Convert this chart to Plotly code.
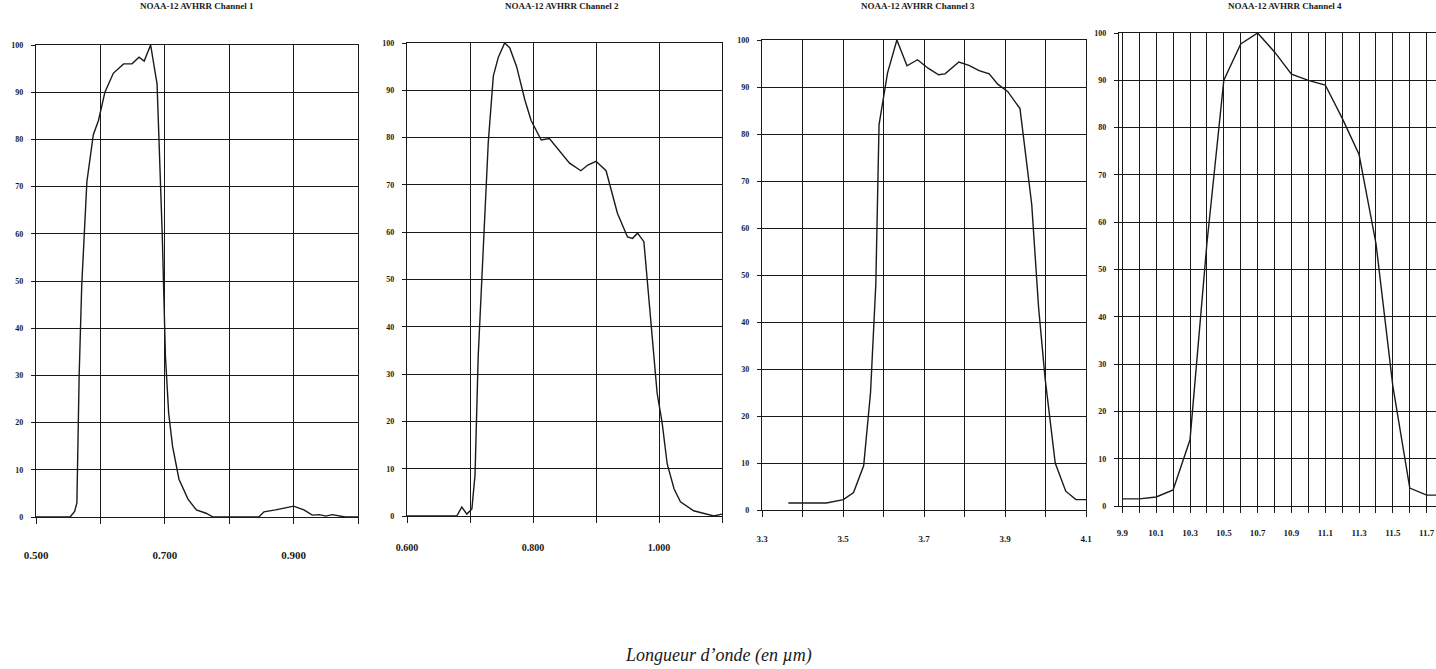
import plotly.graph_objects as go

# ---------------- data ----------------
titles = ["NOAA-12 AVHRR Channel 1", "NOAA-12 AVHRR Channel 2",
          "NOAA-12 AVHRR Channel 3", "NOAA-12 AVHRR Channel 4"]

ch1_wl = [0.500, 0.553, 0.560, 0.5635, 0.567, 0.571, 0.579, 0.589, 0.597, 0.607, 0.620,
          0.636, 0.649, 0.660, 0.668, 0.678, 0.688, 0.696, 0.701, 0.706, 0.712, 0.722,
          0.736, 0.749, 0.764, 0.775, 0.846, 0.854, 0.872, 0.900, 0.916, 0.929, 0.940,
          0.950, 0.960, 0.980, 1.000]
ch1_resp = [0, 0, 1.2, 3, 30, 49, 71, 81, 84, 90, 94,
            96, 96, 97.4, 96.6, 100, 91.7, 60, 34, 22, 15, 8,
            3.8, 1.5, 0.8, 0, 0, 1.1, 1.5, 2.3, 1.5, 0.4, 0.5,
            0.2, 0.5, 0, 0]

ch2_wl = [0.600, 0.679, 0.687, 0.695, 0.703, 0.708, 0.713, 0.721, 0.729, 0.737, 0.745,
          0.755, 0.763, 0.774, 0.787, 0.797, 0.813, 0.826, 0.839, 0.858, 0.876, 0.887,
          0.900, 0.916, 0.934, 0.950, 0.958, 0.966, 0.976, 0.987, 0.997, 1.005, 1.013,
          1.024, 1.034, 1.055, 1.076, 1.087, 1.100]
ch2_resp = [0, 0, 1.9, 0.4, 1.5, 8.7, 33.7, 56, 79, 93, 97,
            100, 99, 95, 88, 83.6, 79.5, 79.8, 77.7, 74.6, 73, 74.2,
            75, 73, 64, 59, 58.7, 59.8, 58, 41, 26, 19.7, 11,
            5.7, 3, 1.1, 0.4, 0, 0.4]

ch3_wl = [3.365, 3.459, 3.501, 3.526, 3.551, 3.568, 3.581, 3.589, 3.610, 3.633, 3.658,
          3.684, 3.710, 3.736, 3.752, 3.786, 3.811, 3.836, 3.861, 3.882, 3.907, 3.928,
          3.937, 3.949, 3.966, 3.983, 3.999, 4.024, 4.050, 4.075, 4.100]
ch3_resp = [1.5, 1.5, 2.2, 3.7, 9.4, 25, 48, 82, 93, 100, 94.5,
            95.8, 94, 92.6, 92.8, 95.3, 94.6, 93.5, 92.8, 90.6, 89, 86.5,
            85.4, 77, 65, 43, 28, 10, 4, 2.2, 2.2]

ch4_wl = [9.9, 10.0, 10.1, 10.2, 10.3, 10.4, 10.5, 10.6, 10.7, 10.8, 10.9,
          11.0, 11.1, 11.2, 11.3, 11.4, 11.5, 11.6, 11.7, 11.8]
ch4_resp = [1.5, 1.5, 1.9, 3.4, 14, 55.5, 90, 97.7, 100, 96, 91.3,
            90, 89, 82, 74.3, 55.5, 25.3, 3.8, 2.3, 2.3]

x_ranges = [[0.5, 1.0], [0.6, 1.1], [3.3, 4.1], [9.88, 11.755]]
x_tickvals = [
    [0.5, 0.6, 0.7, 0.8, 0.9, 1.0],
    [0.6, 0.7, 0.8, 0.9, 1.0, 1.1],
    [3.3, 3.4, 3.5, 3.6, 3.7, 3.8, 3.9, 4.0, 4.1],
    [9.9, 10.0, 10.1, 10.2, 10.3, 10.4, 10.5, 10.6, 10.7, 10.8, 10.9,
     11.0, 11.1, 11.2, 11.3, 11.4, 11.5, 11.6, 11.7],
]
x_ticktext = [
    ["0.500", "", "0.700", "", "0.900", ""],
    ["0.600", "", "0.800", "", "1.000", ""],
    ["3.3", "", "3.5", "", "3.7", "", "3.9", "", "4.1"],
    ["9.9", "", "10.1", "", "10.3", "", "10.5", "", "10.7", "", "10.9",
     "", "11.1", "", "11.3", "", "11.5", "", "11.7"],
]
y_tickvals = [0, 10, 20, 30, 40, 50, 60, 70, 80, 90, 100]
axis_title = "Longueur d’onde (en µm)"

# ---------------- layout geometry ----------------
W, H = 1436, 669
px_x = [(36, 358), (407, 722), (762, 1086), (1119, 1436)]
px_y = [(45, 517), (43, 516), (40, 510), (33, 506)]   # (top, bottom)
title_cx = [197, 562, 918, 1285]
xlab_standoff = [22, 16, 14, 12]
xlab_size = [11, 10, 9, 9]

series_x = [ch1_wl, ch2_wl, ch3_wl, ch4_wl]
series_y = [ch1_resp, ch2_resp, ch3_resp, ch4_resp]

fig = go.Figure()
ink = "#1a1a1a"
serif = "Liberation Serif"

for i in range(4):
    n = "" if i == 0 else str(i + 1)
    fig.add_trace(go.Scatter(
        x=series_x[i], y=series_y[i], mode="lines",
        line=dict(color=ink, width=1.4),
        xaxis="x" + n, yaxis="y" + n, showlegend=False, hoverinfo="skip"))

    xd = [px_x[i][0] / W, px_x[i][1] / W]
    yd = [1 - px_y[i][1] / H, 1 - px_y[i][0] / H]
    fig.layout["xaxis" + n] = dict(
        domain=xd, range=x_ranges[i], anchor="y" + n, automargin=False,
        tickvals=x_tickvals[i], ticktext=x_ticktext[i],
        showgrid=True, gridcolor=ink, gridwidth=1.3,
        showline=True, linecolor=ink, linewidth=1.4, mirror=True,
        ticks="outside", ticklen=6, tickcolor=ink, tickwidth=1.3,
        ticklabelstandoff=xlab_standoff[i],
        tickfont=dict(family=serif, size=xlab_size[i], color=ink, weight="bold"),
        zeroline=False, fixedrange=True)
    fig.layout["yaxis" + n] = dict(
        domain=yd, range=[0, 100], anchor="x" + n, automargin=False,
        tickvals=y_tickvals,
        showgrid=True, gridcolor=ink, gridwidth=1.3,
        showline=True, linecolor=ink, linewidth=1.4, mirror=(i != 3),
        ticks="outside", ticklen=4, tickcolor=ink, tickwidth=1.3,
        ticklabelstandoff=6,
        tickfont=dict(family=serif, size=8, color=ink, weight="bold"),
        zeroline=False, fixedrange=True)

    fig.add_annotation(
        x=title_cx[i] / W, y=1 - 6 / H, xref="paper", yref="paper",
        text=titles[i], showarrow=False, xanchor="center", yanchor="middle",
        font=dict(family=serif, size=9, color=ink, weight="bold"))

fig.add_annotation(
    x=718 / W, y=1 - 655 / H, xref="paper", yref="paper",
    text="<i>" + axis_title + "</i>", showarrow=False,
    xanchor="center", yanchor="middle",
    font=dict(family=serif, size=18, color=ink))

fig.update_layout(
    width=W, height=H, margin=dict(l=0, r=0, t=0, b=0, autoexpand=False),
    paper_bgcolor="white", plot_bgcolor="white")

fig.write_html("out.html")
